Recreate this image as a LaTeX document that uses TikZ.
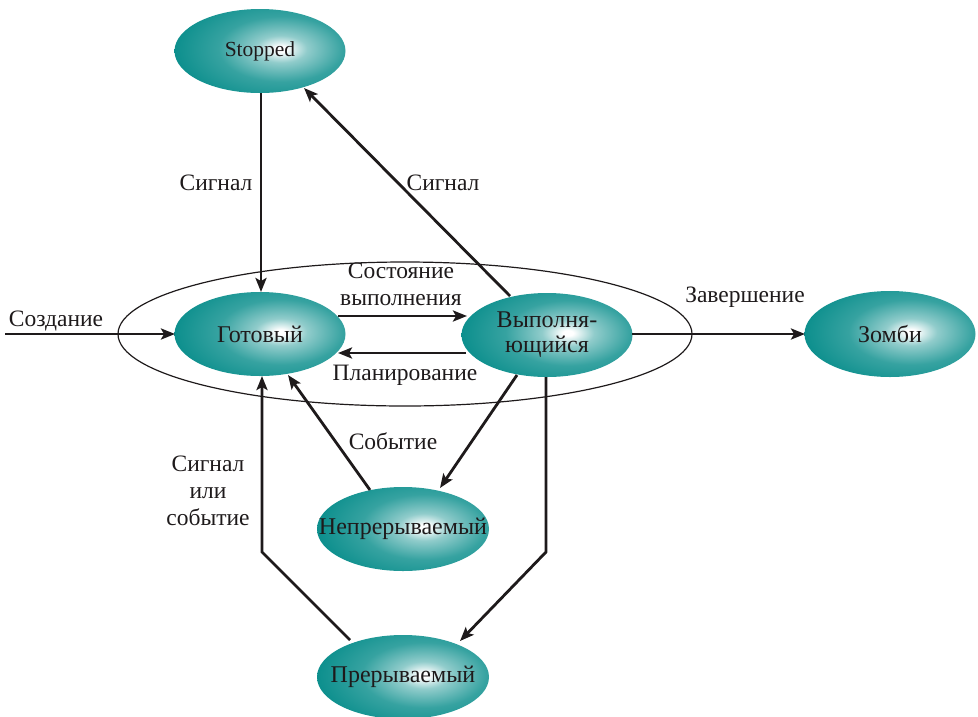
\documentclass[tikz,border=0pt]{standalone}
\usepackage{fontspec}
\setmainfont{Liberation Serif}
\usetikzlibrary{arrows.meta,calc}
\definecolor{tealc}{RGB}{10,142,140}
\definecolor{inkc}{RGB}{30,26,27}
\pgfdeclareradialshading{tealball}{\pgfpoint{0bp}{0bp}}{%
  color(0bp)=(white); color(1bp)=(white); color(5bp)=(tealc!45!white);
  color(12bp)=(tealc!82!white); color(21bp)=(tealc); color(50bp)=(tealc)}
\tikzset{
  stxt/.style={text=inkc, font=\fontsize{24}{26}\selectfont, align=center},
  arr/.style={draw=inkc, line width=2.8pt, -{Stealth[length=14pt,width=11pt,inset=3pt]}},
  lbl/.style={text=inkc, font=\fontsize{23.5}{27}\selectfont, align=center, inner sep=0pt}
}
\newcommand{\tealstate}[4]{% x, y, x radius, y radius
  \begin{scope}
    \clip (#1,#2) ellipse [x radius=#3, y radius=#4];
    \shade[shading=tealball] ($(#1,#2)+(-109,-70)$) rectangle ($(#1,#2)+(151,66)$);
  \end{scope}}
\begin{document}
\begin{tikzpicture}[x=1pt,y=-1pt]
\useasboundingbox (0,0) rectangle (978,716);
% big ellipse
\draw[inkc, line width=1.2pt] (405,334) ellipse [x radius=287, y radius=72];
% states
\tealstate{260}{51}{85.5}{42}
\node[stxt, font=\fontsize{21.5}{24}\selectfont] (stopped) at (260,51) {Stopped};
\tealstate{260}{334}{85.5}{42}
\node[stxt] (ready) at (260,334) {Готовый};
\tealstate{547}{335}{85.5}{42}
\node[stxt, font=\fontsize{24}{25}\selectfont] (run) at (547,335) {Выполня-\\ющийся};
\tealstate{890}{334}{85.5}{43}
\node[stxt] (zombie) at (890,334) {Зомби};
\tealstate{403}{529}{86}{42}
\node[stxt] (unint) at (403,529) {Непрерываемый};
\tealstate{403}{677}{86}{42}
\node[stxt] (inter) at (403,677) {Прерываемый};
% anchor coordinates on the ellipse borders
\coordinate (start) at (5,334);
\coordinate (readyW) at (175,334);
\coordinate (stoppedS) at (261,93);
\coordinate (readyN) at (261,292);
\coordinate (runNW) at (510,296);
\coordinate (stoppedSE) at (304,88);
\coordinate (readyE1) at (338,316);
\coordinate (runW1) at (467,316);
\coordinate (runW2) at (466,353);
\coordinate (readyE2) at (338,353);
\coordinate (runE) at (632,334);
\coordinate (zombieW) at (805,334);
\coordinate (runS1) at (517,375);
\coordinate (unintNE) at (440,488);
\coordinate (unintNW) at (370,490);
\coordinate (readySE) at (288,375);
\coordinate (runS2) at (546,377);
\coordinate (bendR) at (546,552);
\coordinate (interNE) at (460,641);
\coordinate (interNW) at (350,640);
\coordinate (bendL) at (262,552);
\coordinate (readyS) at (262,376);
% connectors
\draw[arr] (start) -- (readyW);
\draw[arr] (stoppedS) -- (readyN);
\draw[arr] (runNW) -- (stoppedSE);
\draw[arr] (readyE1) -- (runW1);
\draw[arr] (runW2) -- (readyE2);
\draw[arr] (runE) -- (zombieW);
\draw[arr] (runS1) -- (unintNE);
\draw[arr] (unintNW) -- (readySE);
\draw[arr] (runS2) -- (bendR) -- (interNE);
\draw[arr] (interNW) -- (bendL) -- (readyS);
% labels
\node[lbl] (l1) at (56,321) {Создание};
\node[lbl] (l2) at (216,183) {Сигнал};
\node[lbl] (l3) at (443,183) {Сигнал};
\node[lbl] (l4) at (401,284) {Состояние\\выполнения};
\node[lbl] (l5) at (405,375) {Планирование};
\node[lbl] (l6) at (745,297) {Завершение};
\node[lbl] (l7) at (393,441) {Событие};
\node[lbl] (l8) at (208,491) {Сигнал\\или\\событие};
\end{tikzpicture}
\end{document}
